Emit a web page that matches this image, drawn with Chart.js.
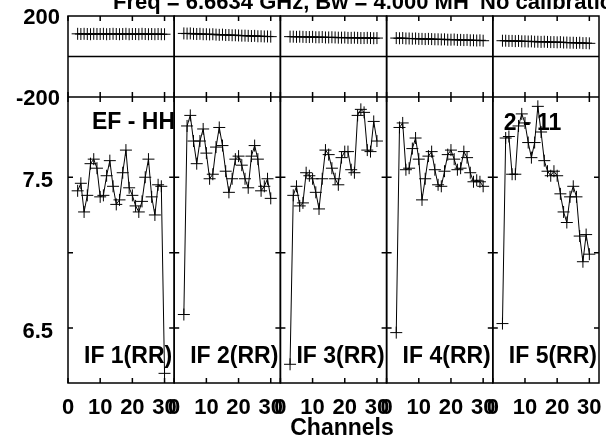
<!DOCTYPE html>
<html>
<head>
<meta charset="utf-8">
<script src="https://cdn.jsdelivr.net/npm/chart.js@4.4.1/dist/chart.umd.min.js"></script>
<style>
  html, body { margin: 0; padding: 0; background: #fff; }
  #wrap { width: 606px; height: 440px; }
</style>
</head>
<body>
<div id="wrap"><canvas id="chart" width="606" height="440"></canvas></div>
<script>
// channels plotted in every IF panel
const channels = [3, 4, 5, 6, 7, 8, 9, 10, 11, 12, 13, 14, 15, 16, 17, 18, 19, 20, 21, 22, 23, 24, 25, 26, 27, 28, 29, 30];

// amplitude per IF
const ampIF1 = [7.41, 7.46, 7.27, 7.38, 7.59, 7.62, 7.56, 7.37, 7.38, 7.51, 7.61, 7.44, 7.32, 7.35, 7.53, 7.68, 7.43, 7.38, 7.31, 7.27, 7.34, 7.50, 7.62, 7.37, 7.25, 7.45, 7.44, 6.20];
const ampIF2 = [6.59, 7.84, 7.91, 7.74, 7.59, 7.74, 7.82, 7.66, 7.49, 7.52, 7.70, 7.83, 7.71, 7.54, 7.40, 7.49, 7.62, 7.64, 7.58, 7.49, 7.43, 7.64, 7.71, 7.62, 7.41, 7.44, 7.49, 7.36];
const ampIF3 = [6.26, 7.38, 7.44, 7.31, 7.33, 7.53, 7.51, 7.49, 7.40, 7.29, 7.49, 7.68, 7.65, 7.56, 7.49, 7.45, 7.63, 7.67, 7.67, 7.55, 7.53, 7.91, 7.95, 7.93, 7.68, 7.67, 7.87, 7.74];
const ampIF4 = [6.47, 7.83, 7.86, 7.55, 7.56, 7.69, 7.76, 7.62, 7.35, 7.49, 7.64, 7.67, 7.55, 7.45, 7.44, 7.54, 7.65, 7.68, 7.62, 7.55, 7.56, 7.67, 7.63, 7.53, 7.47, 7.48, 7.47, 7.44];
const ampIF5 = [6.53, 7.76, 7.77, 7.52, 7.52, 7.84, 7.92, 7.86, 7.73, 7.63, 7.73, 7.97, 7.80, 7.61, 7.54, 7.51, 7.54, 7.51, 7.39, 7.27, 7.20, 7.37, 7.44, 7.37, 7.11, 6.94, 7.12, 6.99];

// phase per IF (degrees)
const phaseIF1 = [112, 111, 112, 111, 110, 112, 111, 111, 112, 110, 111, 112, 111, 110, 111, 112, 110, 111, 111, 110, 112, 111, 110, 111, 110, 111, 110, 110];
const phaseIF2 = [114, 113, 114, 112, 111, 112, 110, 110, 109, 110, 108, 107, 108, 106, 106, 105, 105, 104, 103, 103, 102, 101, 102, 100, 100, 99, 99, 98];
const phaseIF3 = [98, 98, 97, 98, 97, 96, 96, 97, 95, 95, 96, 94, 94, 95, 94, 93, 93, 94, 92, 92, 93, 92, 91, 91, 92, 91, 90, 91];
const phaseIF4 = [91, 90, 91, 89, 89, 88, 89, 87, 87, 86, 87, 86, 85, 85, 84, 85, 83, 83, 84, 82, 82, 81, 82, 80, 80, 79, 80, 78];
const phaseIF5 = [78, 78, 77, 77, 76, 77, 75, 75, 74, 75, 73, 73, 72, 73, 72, 71, 71, 70, 71, 69, 69, 68, 68, 67, 68, 66, 66, 65];

const ampSeries = [ampIF1, ampIF2, ampIF3, ampIF4, ampIF5];
const phaseSeries = [phaseIF1, phaseIF2, phaseIF3, phaseIF4, phaseIF5];
const ifLabels = ['IF 1(RR)', 'IF 2(RR)', 'IF 3(RR)', 'IF 4(RR)', 'IF 5(RR)'];

// axis ticks
const xTicks = [0, 10, 20, 30];
const ampTicks = [6.5, 7.0, 7.5];
const ampTickLabels = [6.5, 7.5];
const phaseTickLabels = [-200, 200];

const titleText = 'Freq = 6.6634 GHz, Bw = 4.000 MH';
const titleNote = 'No calibration';
const baselineLabel = 'EF - HH';
const timeLabel = '2 - 11';
const xTitle = 'Channels';

const FONT = "'Liberation Sans', Arial, Helvetica, sans-serif";
const boldFont = size => ({ family: FONT, size: size, weight: 'bold', lineHeight: 1 });

// keep the plot box where the reference has it
const noPad = s => { s.paddingLeft = 0; s.paddingRight = 0; s.paddingTop = 0; s.paddingBottom = 0; };

const scales = {};
ifLabels.forEach((_, i) => {
  scales['x' + i] = {
    type: 'linear',
    axis: 'x',
    position: 'bottom',
    stack: 'chan',
    stackWeight: 1,
    min: 0,
    max: 33,
    grid: { display: false, drawTicks: false },
    border: { display: false },
    afterBuildTicks: s => { s.ticks = xTicks.map(v => ({ value: v })); },
    afterFit: s => { s.height = 57; noPad(s); },
    ticks: { autoSkip: false, maxRotation: 0, padding: 14, color: '#000', font: boldFont(22) }
  };
});
scales.phase = {
  type: 'linear',
  axis: 'y',
  position: 'left',
  stack: 'val',
  stackWeight: 81,
  weight: 2,
  min: -200,
  max: 200,
  grid: { display: false, drawTicks: false },
  border: { display: false },
  afterBuildTicks: s => { s.ticks = phaseTickLabels.map(v => ({ value: v })); },
  afterFit: s => { s.width = 68; noPad(s); },
  ticks: { padding: 8, labelOffset: 2, color: '#000', font: boldFont(22) }
};
scales.amp = {
  type: 'linear',
  axis: 'y',
  position: 'left',
  stack: 'val',
  stackWeight: 286,
  weight: 1,
  min: 6.136,
  max: 8.032,
  grid: { display: false, drawTicks: false },
  border: { display: false },
  afterBuildTicks: s => { s.ticks = ampTickLabels.map(v => ({ value: v })); },
  afterFit: s => { s.width = 68; noPad(s); },
  ticks: { padding: 15, labelOffset: 4, color: '#000', font: boldFont(22), callback: v => v.toFixed(1) }
};

const datasets = [];
ampSeries.forEach((vals, i) => {
  datasets.push({
    data: channels.map((c, j) => ({ x: c, y: vals[j] })),
    xAxisID: 'x' + i,
    yAxisID: 'amp',
    showLine: true,
    borderColor: '#000',
    borderWidth: 1,
    pointStyle: 'cross',
    pointRadius: 6,
    pointBorderWidth: 1,
    pointBorderColor: '#000'
  });
  datasets.push({
    data: channels.map((c, j) => ({ x: c, y: phaseSeries[i][j] })),
    xAxisID: 'x' + i,
    yAxisID: 'phase',
    showLine: true,
    borderColor: '#000',
    borderWidth: 1,
    pointStyle: 'cross',
    pointRadius: 6,
    pointBorderWidth: 1,
    pointBorderColor: '#000'
  });
});

// frame boxes, inward ticks and panel texts
const framePlugin = {
  id: 'frame',
  beforeDatasetsDraw(chart) {
    const ctx = chart.ctx;
    const ph = chart.scales.phase;
    const am = chart.scales.amp;
    const T = 5;
    ctx.save();
    ctx.strokeStyle = '#000';
    ctx.lineWidth = 1.5;
    ctx.fillStyle = '#000';
    ctx.font = 'bold 23px ' + FONT;
    ctx.textBaseline = 'alphabetic';
    ifLabels.forEach((lab, i) => {
      const xs = chart.scales['x' + i];
      ctx.strokeRect(xs.left, ph.top, xs.right - xs.left, am.bottom - ph.top);
      ctx.beginPath();
      ctx.moveTo(xs.left, ph.bottom); ctx.lineTo(xs.right, ph.bottom);
      const y0 = ph.getPixelForValue(0);
      ctx.moveTo(xs.left, y0); ctx.lineTo(xs.right, y0);
      xTicks.forEach(v => {
        const px = xs.getPixelForValue(v);
        ctx.moveTo(px, ph.top); ctx.lineTo(px, ph.top + T);
        ctx.moveTo(px, ph.bottom - T); ctx.lineTo(px, ph.bottom + T);
        ctx.moveTo(px, am.bottom); ctx.lineTo(px, am.bottom - T);
      });
      ampTicks.forEach(v => {
        const py = am.getPixelForValue(v);
        ctx.moveTo(xs.left, py); ctx.lineTo(xs.left + T, py);
        ctx.moveTo(xs.right, py); ctx.lineTo(xs.right - T, py);
      });
      ctx.stroke();
      ctx.textAlign = 'left';
      ctx.fillText(lab, xs.left + 16, 363);
    });
    ctx.fillText(baselineLabel, chart.scales.x0.left + 24, 129);
    ctx.fillText(timeLabel, chart.scales.x4.left + 11, 130);
    ctx.textAlign = 'center';
    ctx.fillText(xTitle, 342, 435);
    ctx.textAlign = 'left';
    ctx.font = 'bold 22px ' + FONT;
    ctx.fillText(titleText, 113, 9);
    ctx.fillText(titleNote, 480, 9);
    ctx.restore();
  }
};

new Chart(document.getElementById('chart'), {
  type: 'scatter',
  data: { datasets: datasets },
  options: {
    responsive: false,
    devicePixelRatio: 1,
    animation: false,
    layout: { padding: { top: 16, right: 6, left: 0, bottom: 0 } },
    plugins: { legend: { display: false }, tooltip: { enabled: false } },
    scales: scales
  },
  plugins: [framePlugin]
});
</script>
</body>
</html>
